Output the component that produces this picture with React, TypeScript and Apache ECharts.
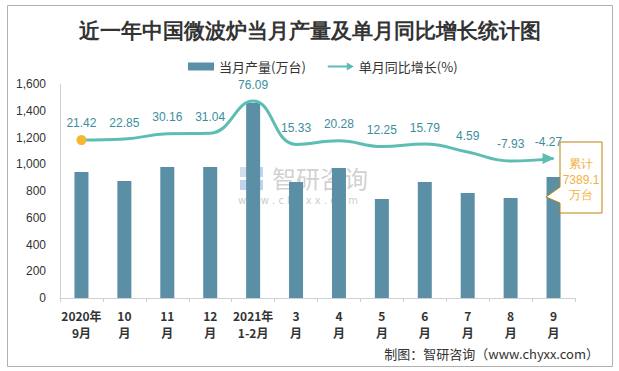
import React, { useEffect, useRef } from "react";
import * as echarts from "echarts";

const categories = ["2020年\n9月", "10\n月", "11\n月", "12\n月", "2021年\n1-2月", "3\n月", "4\n月", "5\n月", "6\n月", "7\n月", "8\n月", "9\n月"];
const production = [942, 875, 979, 980, 1458, 867, 972, 740, 867, 785, 748, 905];
const growth = [21.42, 22.85, 30.16, 31.04, 76.09, 15.33, 20.28, 12.25, 15.79, 4.59, -7.93, -4.27];
const yTicks = [0, 200, 400, 600, 800, 1000, 1200, 1400, 1600];

const BAR = "#5B8FA6";
const LINE = "#5CBDB3";
const LABEL = "#3B8E9C";

export default function App() {
  const ref = useRef<HTMLDivElement>(null);
  useEffect(() => {
    if (!ref.current) return;
    const chart = echarts.init(ref.current, null, { renderer: "svg" });
    const n = growth.length;
    const lineData = growth.map((v, i) => {
      if (i === 0) {
        return { value: v, symbol: "circle", symbolSize: 10, itemStyle: { color: "#F5B731" }, label: { distance: 6 } };
      }
      if (i === n - 1) {
        return { value: v, symbol: "triangle", symbolSize: [11, 12], symbolRotate: -90, symbolOffset: [-5, 0], itemStyle: { color: LINE }, label: { distance: 5 } };
      }
      return { value: v, symbol: "circle", symbolSize: 1, itemStyle: { color: "rgba(0,0,0,0)" }, label: { distance: 10 } };
    });
    chart.setOption({
      animation: false,
      title: {
        text: "近一年中国微波炉当月产量及单月同比增长统计图",
        left: "center",
        top: 15,
        textStyle: { fontFamily: "serif", fontWeight: "bold", fontSize: 21, color: "#333" },
      },
      legend: {
        left: 183,
        top: 55,
        itemWidth: 26,
        itemHeight: 8,
        itemGap: 22,
        textStyle: { fontSize: 13, color: "#333", fontFamily: "Noto Sans CJK SC" },
        data: [
          { name: "当月产量(万台)", icon: "rect" },
          { name: "单月同比增长(%)", icon: "path://M0,3 L19,3 L19,0 L26,4 L19,8 L19,5 L0,5 Z" },
        ],
      },
      grid: { left: 60, right: 44, top: 84, bottom: 73, containLabel: false },
      xAxis: {
        type: "category",
        data: categories,
        axisLine: { lineStyle: { color: "#D0D0D0" } },
        axisTick: { show: true, length: 4, lineStyle: { color: "#D0D0D0" } },
        axisLabel: { interval: 0, fontWeight: "bold", fontSize: 12, color: "#333", lineHeight: 17, margin: 9, fontFamily: "Noto Sans CJK SC" },
      },
      yAxis: [
        {
          type: "value",
          min: 0,
          max: 1600,
          interval: 200,
          axisLine: { show: true, lineStyle: { color: "#D0D0D0" } },
          axisTick: { show: false },
          splitLine: { show: false },
          axisLabel: {
            fontSize: 12,
            color: "#333",
            margin: 14,
            formatter: (v: number) => (yTicks.includes(v) ? v.toLocaleString("en-US") : ""),
          },
        },
        { type: "value", min: -200, max: 100, show: false, splitLine: { show: false } },
      ],
      series: [
        {
          name: "当月产量(万台)",
          type: "bar",
          data: production,
          barWidth: 14,
          itemStyle: { color: BAR },
          z: 2,
        },
        {
          name: "单月同比增长(%)",
          type: "line",
          yAxisIndex: 1,
          data: lineData,
          smooth: 0.45,
          showSymbol: true,
          lineStyle: { color: LINE, width: 3 },
          itemStyle: { color: LINE },
          label: { show: true, position: "top", color: LABEL, fontSize: 12 },
          z: 5,
        },
      ],
      graphic: [
        { type: "rect", shape: { x: 7.5, y: 5.5, width: 605, height: 361 }, style: { fill: "none", stroke: "#B0B0B0", lineWidth: 1 }, silent: true, z: -1 },
        // watermark
        { type: "rect", shape: { x: 240, y: 167, width: 8, height: 10 }, style: { fill: "rgba(160,180,210,0.45)" }, silent: true, z: 1 },
        { type: "rect", shape: { x: 250, y: 167, width: 13, height: 10 }, style: { fill: "rgba(110,160,220,0.45)" }, silent: true, z: 1 },
        { type: "rect", shape: { x: 240, y: 180, width: 23, height: 10 }, style: { fill: "rgba(110,160,220,0.45)" }, silent: true, z: 1 },
        { type: "text", x: 272, y: 165, style: { text: "智研咨询", fontSize: 24, lineHeight: 24, fill: "rgba(150,150,150,0.45)", fontFamily: "Noto Sans CJK SC" }, silent: true, z: 1 },
        { type: "text", x: 238, y: 195, style: { text: "w w w . c h y x x . c o m", fontSize: 10, lineHeight: 10, fill: "rgba(150,150,150,0.5)", fontFamily: "DejaVu Sans" }, silent: true, z: 1 },
        // annotation
        {
          type: "polygon",
          shape: { points: [[560, 142], [602, 142], [602, 213], [560, 213], [560, 203], [546, 197], [560, 187]] },
          style: { fill: "#fff", stroke: "#B8860B", lineWidth: 1 },
          z: 10,
        },
        { type: "text", x: 581, y: 164, style: { text: "累计", fontSize: 12, fill: "#F2B23E", align: "center", verticalAlign: "middle" }, z: 11 },
        { type: "text", x: 581, y: 180, style: { text: "7389.1", fontSize: 12, fill: "#F2B23E", align: "center", verticalAlign: "middle" }, z: 11 },
        { type: "text", x: 581, y: 195, style: { text: "万台", fontSize: 12, fill: "#F2B23E", align: "center", verticalAlign: "middle" }, z: 11 },
        // footer
        { type: "text", right: 20, top: 347, style: { text: "制图：智研咨询（www.chyxx.com）", fontSize: 13, fill: "#333", fontFamily: "Noto Sans CJK SC" }, z: 11 },
      ],
    });
    return () => chart.dispose();
  }, []);
  return <div ref={ref} style={{ width: 619, height: 371, position: "absolute", left: 0, top: 0 }} />;
}
